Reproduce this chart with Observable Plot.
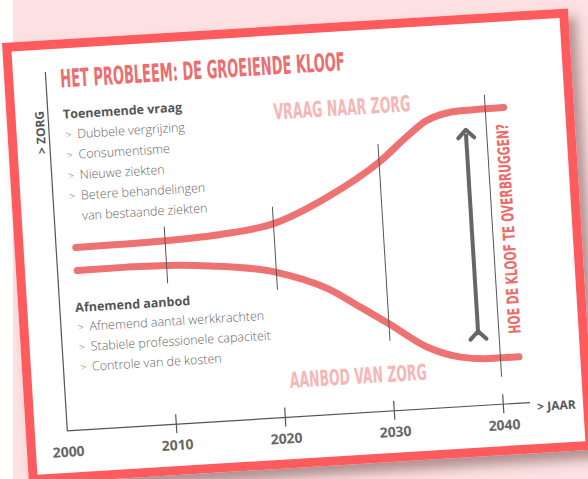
<!DOCTYPE html>
<html>
<head>
<meta charset="utf-8">
<script src="https://cdn.jsdelivr.net/npm/d3@7"></script>
<script src="https://cdn.jsdelivr.net/npm/@observablehq/plot@0.6"></script>
<style>
html, body { margin: 0; padding: 0; background: #ffffff; }
body { width: 588px; height: 479px; overflow: hidden; position: relative; }
#bg { position: absolute; left: 13px; top: 0; width: 575px; height: 479px; background: #fde0e1; }
#card { position: absolute; left: 2px; top: 43px; width: 567px; height: 442px; box-sizing: border-box;
  border: 9px solid #fe5b5e; background: #ffffff; transform-origin: 0 0; transform: rotate(-3.5deg);
  box-shadow: 7px 9px 12px rgba(80, 45, 45, 0.45); }
#title { position: absolute; left: 47px; top: 17.6px; margin: 0; font-weight: 700; font-size: 25px; line-height: 25px;
  font-family: "Liberation Sans Narrow", "DejaVu Sans Condensed", sans-serif; color: #ec6e6f;
  white-space: nowrap; display: inline-block; transform-origin: 0 0; }
#card svg { position: absolute; left: 0; top: 0; overflow: visible; }
</style>
</head>
<body>
<div id="bg"></div>
<div id="card"><h1 id="title"></h1></div>
<script>
// ---- data ----
const titleText = "HET PROBLEEM: DE GROEIENDE KLOOF";

const demandYears  = [2001.8, 2005, 2010, 2015.1, 2020, 2025.1, 2030, 2033, 2034.6, 2037.7, 2041.7];
const demandValues = [50.8, 50.9, 51.2, 52.0, 54.1, 60.6, 69.4, 76.8, 80.2, 82.3, 82.5];

const supplyYears  = [2001.8, 2006.4, 2010, 2014, 2019.9, 2024.6, 2027.5, 2030, 2033.4, 2036.4, 2039.4, 2041.7];
const supplyValues = [44.4, 44.5, 44.3, 43.4, 40.6, 35.1, 29.4, 24.3, 17.1, 13.8, 12.9, 12.9];

const tickYears = [2000, 2010, 2020, 2030, 2040];
const axisEndYear = 2042.5;
const axisTopValue = 100;

const markerYears  = [2010, 2020, 2030, 2040];
const markerTop    = [55.0, 58.7, 74.3, 86.2];
const markerBottom = [39.2, 35.5, 19.4, 7.5];

const gapYear = 2038.1;
const gapFrom = 19.6;
const gapTo = 75.8;

const curveLabels = ["VRAAG NAAR ZORG", "AANBOD VAN ZORG"];
const curveLabelYears = [2026.9, 2026.9];
const curveLabelValues = [85.0, 10.1];

const questionText = "HOE DE KLOOF TE OVERBRUGGEN?";
const questionYear = 2041.5;
const questionValue = 48.7;

const xAxisLabel = "> JAAR";
const yAxisLabel = "> ZORG";
const yAxisLabelValue = 83.4;

const demandHeading = "Toenemende vraag";
const demandFactors = ["Dubbele vergrijzing", "Consumentisme", "Nieuwe ziekten", "Betere behandelingen\nvan bestaande ziekten"];
const supplyHeading = "Afnemend aanbod";
const supplyFactors = ["Afnemend aantal werkkrachten", "Stabiele professionele capaciteit", "Controle van de kosten"];

// ---- styles ----
const condensed = '"Liberation Sans Narrow", "DejaVu Sans Condensed", sans-serif';
const sans = '"Open Sans", "DejaVu Sans", sans-serif';
const curveColor = "#ef7272";
const axisColor = "#555555";
const fitLengths = {"VRAAG NAAR ZORG": 137, "AANBOD VAN ZORG": 137, "HOE DE KLOOF TE OVERBRUGGEN?": 210};

const demand = demandYears.map((year, i) => ({year, value: demandValues[i]}));
const supply = supplyYears.map((year, i) => ({year, value: supplyValues[i]}));
const markers = markerYears.map((year, i) => ({year, top: markerTop[i], bottom: markerBottom[i]}));
const labels = curveLabels.map((text, i) => ({text, year: curveLabelYears[i], value: curveLabelValues[i]}));

function listMarks(heading, items, x, headBaseline, firstBaseline, step) {
  const lines = items.flatMap(s => s.split("\n"));
  const bullets = items.flatMap(s => s.split("\n").map((l, i) => i ? "" : ">"));
  const lastBaseline = firstBaseline + step * (lines.length - 1);
  const fs = 12.5, bs = 10.5;
  return [
    Plot.text([heading], {frameAnchor: "top-left", dx: x, dy: headBaseline, text: d => d, textAnchor: "start",
      lineAnchor: "bottom", fontFamily: sans, fontWeight: 700, fontSize: 12.5, fill: "#555"}),
    Plot.text([bullets.join("\n")], {frameAnchor: "top-left", dx: x + 1.2, dy: lastBaseline, text: d => d,
      textAnchor: "start", lineAnchor: "bottom", lineHeight: step / bs, fontFamily: sans, fontWeight: 300,
      fontSize: bs, fill: "#666"}),
    Plot.text([lines.join("\n")], {frameAnchor: "top-left", dx: x + 13, dy: lastBaseline, text: d => d,
      textAnchor: "start", lineAnchor: "bottom", lineHeight: step / fs, fontFamily: sans, fontWeight: 300,
      fontSize: fs, fill: "#666"})
  ];
}

const card = document.getElementById("card");
const title = document.getElementById("title");
title.textContent = titleText;
title.style.transform = `scaleX(${285 / title.offsetWidth})`;

const chart = Plot.plot({
  width: 549,
  height: 424,
  margin: 0,
  x: {domain: [2000, 2040], range: [32, 468.8], axis: null},
  y: {domain: [0, 100], range: [381.6, 22.6], axis: null},
  style: {background: "transparent", overflow: "visible"},
  marks: [
    Plot.ruleX([2000], {y1: 0, y2: axisTopValue, stroke: axisColor, strokeWidth: 1.2}),
    Plot.ruleY([0], {x1: 2000, x2: axisEndYear, stroke: axisColor, strokeWidth: 1.2}),
    Plot.ruleX(tickYears.slice(1), {y1: 0, y2: 0, insetTop: -9.5, insetBottom: -9.5, stroke: axisColor, strokeWidth: 1.2}),
    Plot.text(tickYears, {x: d => d, y: 0, dy: 21.5, text: d => String(d), lineAnchor: "middle",
      fontFamily: sans, fontWeight: 700, fontSize: 14, fill: "#666"}),
    Plot.text([xAxisLabel], {x: axisEndYear, y: 0, dx: 6.5, dy: 5, text: d => d, textAnchor: "start",
      lineAnchor: "middle", fontFamily: sans, fontWeight: 700, fontSize: 12, fill: "#555"}),
    Plot.text([yAxisLabel], {x: 2000, y: yAxisLabelValue, dx: -8, text: d => d, rotate: -90,
      lineAnchor: "middle", fontFamily: sans, fontWeight: 700, fontSize: 12, fill: "#555"}),
    Plot.line(demand, {x: "year", y: "value", curve: "monotone-x", stroke: curveColor, strokeWidth: 7}),
    Plot.line(supply, {x: "year", y: "value", curve: "monotone-x", stroke: curveColor, strokeWidth: 7}),
    Plot.ruleX(markers, {x: "year", y1: "bottom", y2: "top", stroke: "#555", strokeWidth: 1}),
    Plot.link([{year: gapYear, from: gapFrom, to: gapTo}], {x1: "year", x2: "year", y1: "from", y2: "to",
      stroke: "#666", strokeWidth: 4, markerStart: "arrow", markerEnd: "arrow"}),
    Plot.text(labels, {x: "year", y: "value", text: "text", lineAnchor: "middle", fontFamily: condensed,
      fontWeight: 700, fontSize: 22, fill: "#f6b6b6"}),
    Plot.text([questionText], {x: questionYear, y: questionValue, text: d => d, rotate: -90, lineAnchor: "middle",
      fontFamily: condensed, fontWeight: 700, fontSize: 16.5, fill: "#ee6b6c"}),
    ...listMarks(demandHeading, demandFactors, 47, 69.9, 90, 20.5),
    ...listMarks(supplyHeading, supplyFactors, 47.5, 263.6, 282.8, 20.1)
  ]
});

d3.select(chart).selectAll("text").each(function () {
  const L = fitLengths[this.textContent];
  if (L) { this.setAttribute("textLength", L); this.setAttribute("lengthAdjust", "spacingAndGlyphs"); }
});

card.appendChild(chart);
</script>
</body>
</html>
